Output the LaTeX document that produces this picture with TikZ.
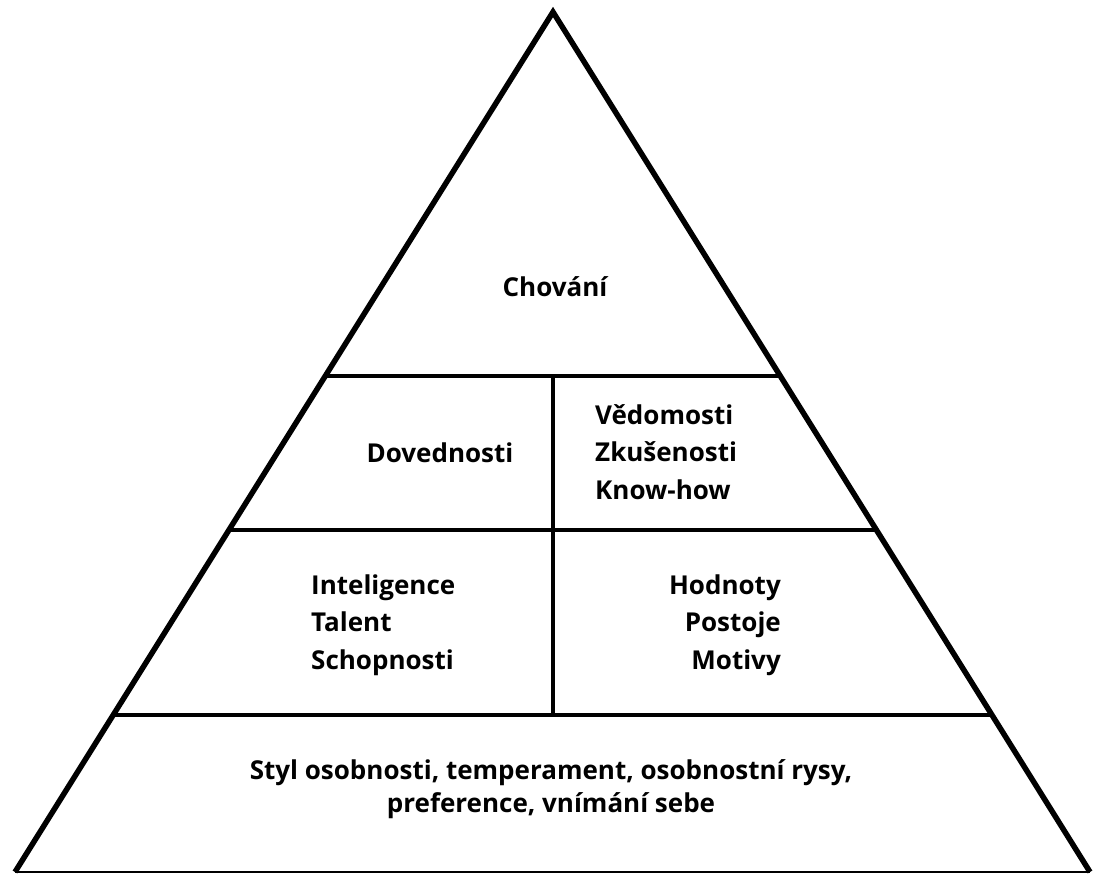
\documentclass[tikz,border=0pt]{standalone}
\usepackage{fontspec}
\setmainfont{Open Sans}
\usetikzlibrary{positioning,calc}

\begin{document}
\begin{tikzpicture}[x=1pt, y=-1pt,
    label text/.style={font=\fontsize{26}{37.5}\selectfont\bfseries, inner sep=0pt},
    level line/.style={line width=3.6pt, black}]
    \useasboundingbox (0,0) rectangle (1093,874);
    % pyramid outline
    \coordinate (top) at (553,12);
    \coordinate (left) at (15,872);
    \coordinate (right) at (1090,872);
    \draw [line width=5.5pt, line join=miter] (left) -- (top) -- (right);
    \draw [line width=2.5pt] (left) -- (right);

    % levels
    \coordinate (l1a) at ($(top)!0.4233!(left)$);
    \coordinate (l1b) at ($(top)!0.4233!(right)$);
    \coordinate (l2a) at ($(top)!0.6023!(left)$);
    \coordinate (l2b) at ($(top)!0.6023!(right)$);
    \coordinate (l3a) at ($(top)!0.8174!(left)$);
    \coordinate (l3b) at ($(top)!0.8174!(right)$);
    \draw [level line] (l1a) -- (l1b);
    \draw [level line] (l2a) -- (l2b);
    \draw [level line] (l3a) -- (l3b);
    \coordinate (mid1) at (553,376);
    \coordinate (mid3) at (553,715);
    \draw [level line] (mid1) -- (mid3);

    \node [label text] (chovani) at (555,287) {Chování};
    \node [label text] (dovednosti) at (440,453) {Dovednosti};
    \node [label text, align=left, anchor=west] (vedomosti) at (595,452) {Vědomosti\\Zkušenosti\\Know-how};
    \node [label text, align=left, anchor=west] (inteligence) at (311,625) {Inteligence\\Talent\\Schopnosti};
    \node [label text, align=right, anchor=east] (hodnoty) at (781,625) {Hodnoty\\Postoje\\Motivy};
    \node [label text, align=center, font=\fontsize{26}{33}\selectfont\bfseries] (styl) at (551,789) {Styl osobnosti, temperament, osobnostní rysy,\\preference, vnímání sebe};
\end{tikzpicture}
\end{document}
